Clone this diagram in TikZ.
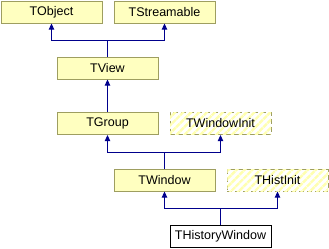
\documentclass[tikz,border=0pt]{standalone}
\usepackage{fontspec}
\setmainfont{Liberation Sans}
\usetikzlibrary{arrows.meta,patterns.meta}
\definecolor{boxfill}{RGB}{255,255,192}
\definecolor{boxline}{RGB}{158,158,96}
\definecolor{hatch}{RGB}{255,255,176}
\definecolor{edge}{RGB}{0,0,140}

\begin{document}
\begin{tikzpicture}[x=0.75pt,y=-0.75pt,
  cls/.style={draw=boxline,fill=boxfill,line width=0.75pt,minimum width=75.75pt,
    minimum height=16.5pt,inner sep=0pt,font=\fontsize{9.4pt}{11pt}\selectfont},
  undoc/.style={cls,fill=none,dash pattern=on 3.75pt off 2.25pt,
    postaction={pattern={Lines[angle=45,distance=4.2pt,line width=1.8pt]},pattern color=hatch}},
  this/.style={cls,draw=black,fill=white},
  inh/.style={draw=edge,line width=0.75pt,-{Triangle[length=4.5pt,width=4pt]}}]
  \useasboundingbox (0,0) rectangle (329,248);
  % classes
  \node[cls] (TObject) at (51.5,12) {TObject};
  \node[cls] (TStreamable) at (164.5,12) {TStreamable};
  \node[cls] (TView) at (107.5,68) {TView};
  \node[cls] (TGroup) at (107.5,123.5) {TGroup};
  \node[undoc] (TWindowInit) at (220.5,123.5) {TWindowInit};
  \node[cls] (TWindow) at (164.5,180) {TWindow};
  \node[undoc] (THistInit) at (277.5,180) {THistInit};
  \node[this] (THistoryWindow) at (220.5,236) {THistoryWindow};
  % junctions
  \coordinate (jView) at (107.5,40.5);
  \coordinate (jWindow) at (164.5,152.5);
  \coordinate (jHist) at (220.5,208.5);
  % inheritance
  \draw[draw=edge,line width=0.75pt] (TView.north) -- (jView);
  \draw[inh] (jView) -| (TObject.south);
  \draw[inh] (jView) -| (TStreamable.south);
  \draw[inh] (TGroup.north) -- (TView.south);
  \draw[draw=edge,line width=0.75pt] (TWindow.north) -- (jWindow);
  \draw[inh] (jWindow) -| (TGroup.south);
  \draw[inh] (jWindow) -| (TWindowInit.south);
  \draw[draw=edge,line width=0.75pt] (THistoryWindow.north) -- (jHist);
  \draw[inh] (jHist) -| (TWindow.south);
  \draw[inh] (jHist) -| (THistInit.south);
\end{tikzpicture}
\end{document}
